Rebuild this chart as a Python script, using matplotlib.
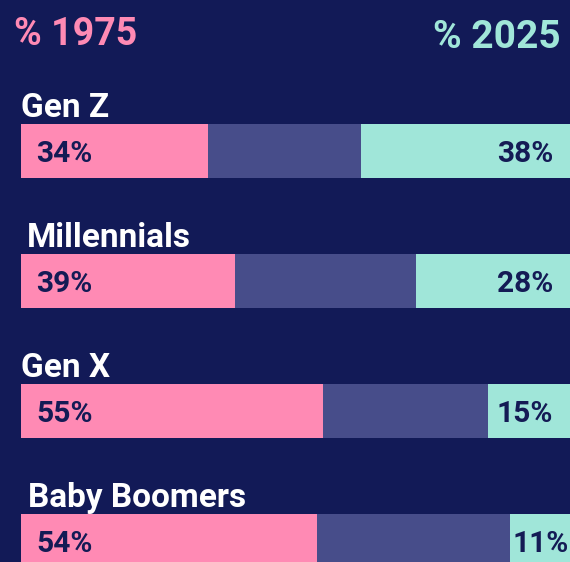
import matplotlib.pyplot as plt
import numpy as np

# Data
generations = ["Gen Z", "Millennials", "Gen X", "Baby Boomers"]
pct_1975 = [34, 39, 55, 54]
pct_2025 = [38, 28, 15, 11]

bg = "#121a57"
pink = "#ff8ab4"
mid = "#474d8a"
teal = "#a0e6d9"
dark = "#141b55"

plt.rcParams["font.family"] = ["Roboto", "DejaVu Sans"]

W, H = 570, 562
fig = plt.figure(figsize=(W / 100, H / 100), dpi=100, facecolor=bg)
# axes spans the bar area: x 0..100 % maps to px 21..570
ax = fig.add_axes([21 / W, 0, 549 / W, 1])
ax.set_facecolor(bg)
ax.set_xlim(0, 100)
ax.set_ylim(H, 0)
ax.axis("off")

px = 100 / 549  # one pixel in axis units
centers = 151 + 130 * np.arange(len(generations))
bar_h = 54
label_dx = [0, 6, 0, 7]  # small indent seen on some labels

p1 = np.array(pct_1975)
p2 = np.array(pct_2025)
ax.barh(centers, p1, height=bar_h, color=pink, linewidth=0)
ax.barh(centers, 100 - p2 - p1, left=p1, height=bar_h, color=mid, linewidth=0)
ax.barh(centers, p2, left=100 - p2, height=bar_h, color=teal, linewidth=0)

for i, (name, c) in enumerate(zip(generations, centers)):
    ax.text(
        label_dx[i] * px, c - bar_h / 2 - 7, name,
        ha="left", va="baseline", color="white", fontsize=24, fontweight="bold",
        clip_on=False,
    )
    ax.text(
        15 * px, c + 11.5, f"{pct_1975[i]}%",
        ha="left", va="baseline", color=dark, fontsize=21.5, fontweight="bold",
    )
    # right label: right-aligned, or left-aligned when the teal segment is narrow
    if pct_2025[i] * 549 / 100 < 70:
        x, ha = 100 - pct_2025[i] + 3 * px, "left"
    else:
        x, ha = 100 - 17 * px, "right"
    ax.text(
        x, c + 11.5, f"{pct_2025[i]}%",
        ha=ha, va="baseline", color=dark, fontsize=21.5, fontweight="bold",
    )

fig.text(14 / W, 1 - 45 / H, "% 1975", ha="left", va="baseline",
         color=pink, fontsize=27, fontweight="bold")
fig.text(561 / W, 1 - 48 / H, "% 2025", ha="right", va="baseline",
         color=teal, fontsize=28, fontweight="bold")

fig.savefig("out.png", dpi=100, facecolor=bg)
